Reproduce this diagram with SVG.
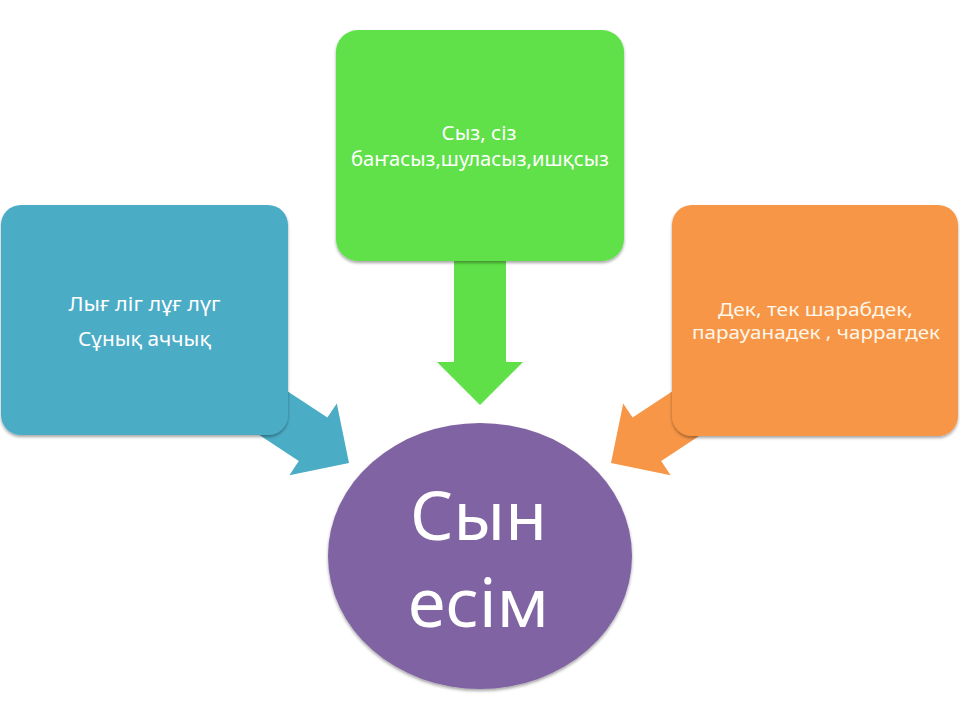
<svg xmlns="http://www.w3.org/2000/svg" width="960" height="720" viewBox="0 0 960 720">
  <defs>
    <filter id="sh" x="-10%" y="-10%" width="120%" height="125%">
      <feDropShadow dx="0" dy="2" stdDeviation="1.5" flood-color="#000" flood-opacity="0.35"/>
    </filter>
    <style>
      .t { font-family: "Noto Sans", "Open Sans", "DejaVu Sans", sans-serif; fill: #ffffff; text-anchor: middle; }
      .s { font-size: 20px; }
      .o { font-size: 18px; fill: #FFF6EA; }
      .big { font-size: 68px; }
      .blue { fill: #4BACC6; }
      .green { fill: #60E048; }
      .orange { fill: #F79646; }
      .purple { fill: #8064A2; }
    </style>
  </defs>
  <rect width="960" height="720" fill="#ffffff"/>

  <g id="connectors">
    <polygon class="blue" points="173.5,378.5 202.1,335.1 327.4,417.6 336.8,403.4 349,463 289.4,475.3 298.8,461 "/>
    <polygon class="green" points="454,200 506,200 506,362 523,362 480,405 437,362 454,362"/>
    <polygon class="orange" points="786.5,378.5 757.9,335.1 632.6,417.6 623.2,403.4 611,463 670.6,475.3 661.2,461"/>
  </g>

  <g id="node-left">
    <rect class="blue" x="1" y="205" width="287" height="230" rx="20" ry="20" filter="url(#sh)"/>
    <text class="t s" x="144.5" y="311" textLength="152" lengthAdjust="spacingAndGlyphs">Лығ ліг лұғ лүг</text>
    <text class="t s" x="144.5" y="346" textLength="133" lengthAdjust="spacingAndGlyphs">Сұнық аччық</text>
  </g>

  <g id="node-top">
    <rect class="green" x="336" y="30" width="288" height="231" rx="22" ry="22" filter="url(#sh)"/>
    <text class="t s" x="479" y="140" textLength="75" lengthAdjust="spacingAndGlyphs">Сыз, сіз</text>
    <text class="t s" x="480" y="166" textLength="258" lengthAdjust="spacingAndGlyphs">баҥасыз,шуласыз,ишқсыз</text>
  </g>

  <g id="node-right">
    <rect class="orange" x="672" y="205" width="286" height="231" rx="20" ry="20" filter="url(#sh)"/>
    <text class="t o" x="815.5" y="316" textLength="195" lengthAdjust="spacingAndGlyphs">Дек, тек шарабдек,</text>
    <text class="t o" x="816" y="338.5" textLength="248" lengthAdjust="spacingAndGlyphs">парауанадек , чаррагдек</text>
  </g>

  <g id="node-center">
    <ellipse class="purple" cx="480" cy="556" rx="152" ry="133" filter="url(#sh)"/>
    <text class="t big" x="478.5" y="540">Сын</text>
    <text class="t big" x="478.5" y="627">есім</text>
  </g>
</svg>
